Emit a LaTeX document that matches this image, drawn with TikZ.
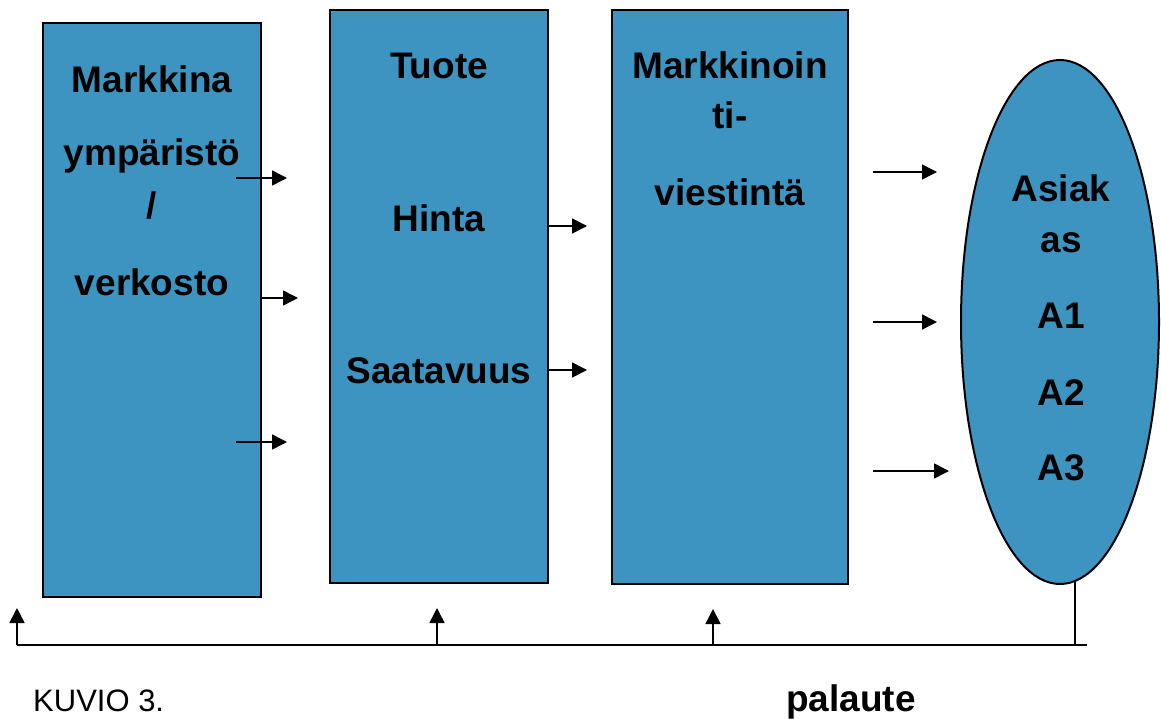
\documentclass[tikz,border=0pt]{standalone}
\usepackage{fontspec}
\setmainfont{Liberation Sans}
\usetikzlibrary{arrows.meta,shapes.geometric}
\definecolor{boxblue}{RGB}{62,148,192}
\tikzset{
  blk/.style={draw=black, line width=2pt, fill=boxblue, rectangle, inner sep=0pt},
  ell/.style={draw=black, line width=2pt, fill=boxblue, ellipse, inner sep=0pt},
  lbl/.style={anchor=base, inner sep=0pt, font=\fontsize{37}{40}\selectfont\bfseries},
  arr/.style={line width=1.5pt, -{Triangle[length=15pt,width=15pt]}},
  fb/.style={line width=1.5pt}
}
\begin{document}
\begin{tikzpicture}[x=1pt,y=-1pt]
\useasboundingbox (0,0) rectangle (1161,719);
% blocks
\node[blk, minimum width=218pt, minimum height=574pt] (b1) at (152,310) {};
\node[blk, minimum width=218pt, minimum height=573pt] (b2) at (439,296.5) {};
\node[blk, minimum width=236pt, minimum height=573pt] (b3) at (730,297) {};
\node[ell, minimum width=198pt, minimum height=524pt] (c) at (1060,322) {};
% block 1 text
\node[lbl] (t11) at (152,93) {Markkina};
\node[lbl] (t12) at (152,166) {ympäristö};
\node[lbl] (t13) at (152,219) {/};
\node[lbl] (t14) at (152,295) {verkosto};
% block 2 text
\node[lbl] (t21) at (439,79) {Tuote};
\node[lbl] (t22) at (439,232) {Hinta};
\node[lbl] (t23) at (439,383) {Saatavuus};
% block 3 text
\node[lbl] (t31) at (730,79) {Markkinoin};
\node[lbl] (t32) at (730,129) {ti-};
\node[lbl] (t33) at (730,206) {viestintä};
% customer text
\node[lbl] (t41) at (1061,202) {Asiak};
\node[lbl] (t42) at (1061,252) {as};
\node[lbl] (t43) at (1061,328) {A1};
\node[lbl] (t44) at (1061,405) {A2};
\node[lbl] (t45) at (1061,480) {A3};
% captions
\node[anchor=base west, inner sep=0pt, font=\fontsize{31}{34}\selectfont] (kuvio) at (33,711) {KUVIO 3.};
\node[lbl] (pal) at (851,711) {palaute};
% arrow end points
\coordinate (a1s) at (236,178); \coordinate (a1e) at (287,178);
\coordinate (a2s) at (b1.east |- 0,298); \coordinate (a2e) at (298,298);
\coordinate (a3s) at (236,442); \coordinate (a3e) at (287,442);
\coordinate (a4s) at (b2.east |- 0,226); \coordinate (a4e) at (587,226);
\coordinate (a5s) at (b2.east |- 0,370); \coordinate (a5e) at (587,370);
\coordinate (a6s) at (873,172); \coordinate (a6e) at (937,172);
\coordinate (a7s) at (873,322); \coordinate (a7e) at (937,322);
\coordinate (a8s) at (873,471); \coordinate (a8e) at (949,471);
\draw[arr] (a1s) -- (a1e);
\draw[arr] (a2s) -- (a2e);
\draw[arr] (a3s) -- (a3e);
\draw[arr] (a4s) -- (a4e);
\draw[arr] (a5s) -- (a5e);
\draw[arr] (a6s) -- (a6e);
\draw[arr] (a7s) -- (a7e);
\draw[arr] (a8s) -- (a8e);
% feedback loop
\coordinate (fbtop) at (1075,581);
\coordinate (fbcorner) at (1075,645);
\coordinate (fbend) at (1087,645);
\coordinate (fbleft) at (17,645);
\coordinate (u1) at (17,608);
\coordinate (u2b) at (437,645); \coordinate (u2) at (437,608);
\coordinate (u3b) at (713,645); \coordinate (u3) at (713,609);
\draw[fb] (fbtop) -- (fbcorner);
\draw[fb] (fbend) -- (fbleft);
\draw[arr] (fbleft) -- (u1);
\draw[arr] (u2b) -- (u2);
\draw[arr] (u3b) -- (u3);
\end{tikzpicture}
\end{document}
